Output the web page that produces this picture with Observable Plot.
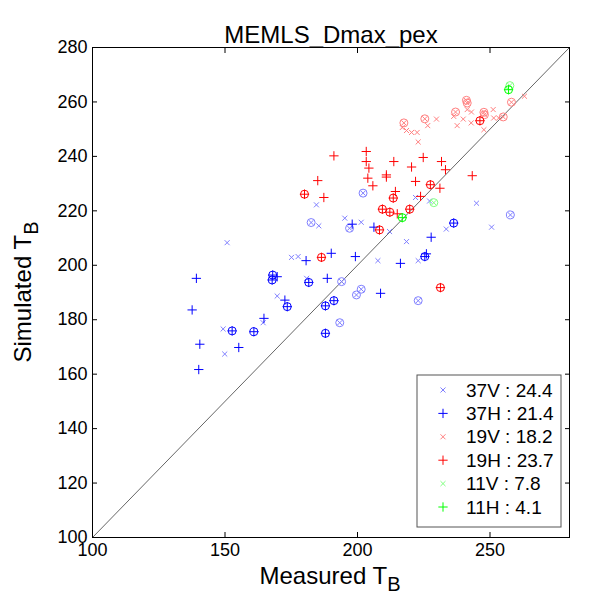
<!DOCTYPE html>
<html><head><meta charset="utf-8">
<script src="https://cdn.jsdelivr.net/npm/d3@7"></script>
<script src="https://cdn.jsdelivr.net/npm/@observablehq/plot@0.6"></script>
<style>body{margin:0;background:#fff;} #chart{width:589px;height:601px;}</style>
</head><body><div id="chart"></div>
<script>
// ---- data ----
const chartTitle = "MEMLS_Dmax_pex";
const series = ["37V", "37H", "19V", "19H", "11V", "11H"];
const rmse = [24.4, 21.4, 18.2, 23.7, 7.8, 4.1];
const colors = ["#7f7fff", "#0000ff", "#ff7f7f", "#ff0000", "#7fff7f", "#00ff00"];
const markers = ["times", "plus", "times", "plus", "times", "plus"];
const xTicks = [100, 150, 200, 250];
const yTicks = [100, 120, 140, 160, 180, 200, 220, 240, 260, 280];
const diagonal = [100, 280];

// [measured, simulated]
const pts37V = [[150.8,208.3],[169.7,188.7],[164.4,178.9],[149.3,176.6],[149.9,167.4],[175.1,202.9],[177.6,203.2],
  [180.8,195.2],[184.5,222.2],[185.4,214.5],[195.2,217.3],[201.4,215.8],[212.1,212.4],[218.5,208.7],[207.7,201.7],
  [222.9,201.7],[221.9,224.9],[227.2,223.6],[244.9,222.8],[233.5,213.3],[250.6,214.0],
  [202.1,226.5],[257.7,218.5],[182.5,215.7],[197.0,213.6],[194.0,194.0],[201.4,191.2],[199.6,189.1],[222.9,187.0],[193.3,178.9]];
const circ37V = [[202.1,226.5],[257.7,218.5],[182.5,215.7],[197.0,213.6],[194.0,194.0],[201.4,191.2],[199.6,189.1],[222.9,187.0],[193.3,178.9]];

const pts37H = [[139.2,195.2],[137.6,183.6],[140.5,171.0],[140.1,161.7],[155.2,169.8],[164.7,180.5],[169.7,195.8],[172.6,187.2],
  [180.6,201.7],[188.6,195.2],[190.1,204.4],[198.0,215.1],[199.2,203.2],[206.2,214.0],[208.7,189.7],[216.2,200.7],[227.8,210.3],[226.0,204.2],
  [168.0,196.4],[167.8,194.6],[152.7,175.9],[160.9,175.6],[173.5,184.8],[181.6,193.7],[187.9,185.1],[191.1,187.0],[187.9,175.0],[236.3,215.5],[225.4,203.2]];
const circ37H = [[168.0,196.4],[167.8,194.6],[152.7,175.9],[160.9,175.6],[173.5,184.8],[181.6,193.7],[187.9,185.1],[191.1,187.0],[187.9,175.0],[236.3,215.5],[225.4,203.2]];

const pts19V = [[263.0,262.1],[236.3,254.7],[241.4,257.2],[243.0,256.3],[251.2,257.2],[239.9,253.7],[242.9,252.3],[237.6,251.3],
  [247.7,249.8],[251.4,254.1],[253.3,254.1],[229.8,253.7],[226.5,251.3],[216.9,250.6],[218.5,249.5],[220.4,248.8],[222.5,248.8],[222.9,245.3],
  [241.1,260.6],[241.4,259.6],[237.0,256.3],[247.7,256.2],[247.9,255.3],[217.5,252.3],[225.4,253.8],[255.0,254.5],[258.1,259.9]];
const circ19V = [[241.1,260.6],[241.4,259.6],[237.0,256.3],[247.7,256.2],[247.9,255.3],[217.5,252.3],[225.4,253.8],[255.0,254.5],[258.1,259.9]];

const pts19H = [[191.1,240.2],[203.3,241.8],[203.3,238.1],[204.3,235.7],[203.9,232.0],[205.8,229.2],[213.7,238.1],[210.9,233.2],
  [210.9,232.4],[220.4,236.1],[224.8,239.6],[231.7,238.1],[233.2,235.1],[221.9,230.8],[243.3,232.9],[231.1,228.3],[185.0,231.1],
  [187.3,224.9],[214.3,227.1],[223.8,225.3],[215.0,218.9],
  [180.0,226.1],[227.5,229.6],[213.5,224.7],[209.4,220.6],[212.2,219.5],[219.7,220.6],[208.3,213.0],[186.4,202.9],[231.3,191.8],[246.2,253.1]];
const circ19H = [[180.0,226.1],[227.5,229.6],[213.5,224.7],[209.4,220.6],[212.2,219.5],[219.7,220.6],[208.3,213.0],[186.4,202.9],[231.3,191.8],[246.2,253.1]];

const pts11V = [[228.8,223.0],[257.5,266.0]];
const circ11V = [[228.8,223.0],[257.5,266.0]];
const pts11H = [[216.9,217.5],[257.0,264.5]];
const circ11H = [[216.9,217.5],[257.0,264.5]];

const allPts = [pts37V, pts37H, pts19V, pts19H, pts11V, pts11H];
const allCirc = [circ37V, circ37H, circ19V, circ19H, circ11V, circ11H];

// ---- chart ----
const font = "'Liberation Sans', Arial, Helvetica, sans-serif";
const markerR = {times: 2.4, plus: 3.1};
const marks = [
  Plot.line(diagonal, {x: d => d, y: d => d, stroke: "#666", strokeWidth: 1}),
];
series.forEach((s, i) => {
  marks.push(Plot.dot(allPts[i], {x: d => d[0], y: d => d[1], symbol: markers[i], r: markerR[markers[i]], stroke: colors[i], strokeOpacity: 1, strokeWidth: 1}));
  marks.push(Plot.dot(allCirc[i], {x: d => d[0], y: d => d[1], symbol: "circle", r: 4, stroke: colors[i], fill: "none", strokeWidth: 1}));
});
marks.push(
  Plot.frame({stroke: "#000", strokeWidth: 1}),
  Plot.axisX({anchor: "bottom", ticks: xTicks, tickSize: -5, tickPadding: 11, label: null}),
  Plot.axisX({anchor: "top", ticks: xTicks.slice(1), tickSize: -5, tickFormat: () => "", label: null}),
  Plot.axisY({anchor: "left", ticks: yTicks, tickSize: -5, tickPadding: 10, label: null}),
  Plot.axisY({anchor: "right", ticks: yTicks.slice(1, -1), tickSize: -5, tickFormat: () => "", label: null}),
  Plot.text([chartTitle], {frameAnchor: "top", dy: -22, fontSize: 24, fill: "#000"})
);

const plot = Plot.plot({
  width: 589, height: 601,
  marginLeft: 92, marginRight: 20, marginTop: 47, marginBottom: 64,
  x: {domain: [100, 280]},
  y: {domain: [100, 280]},
  style: {fontFamily: font, fontSize: "18px", color: "#000", background: "#fff"},
  marks
});
document.getElementById("chart").appendChild(plot);

// axis labels with subscripts
const svg = d3.select(plot);
function subLabel(sel, main, sub) {
  sel.append("tspan").text(main);
  sel.append("tspan").attr("dy", "0.35em").attr("font-size", "20px").text(sub);
}
const yl = svg.append("text").attr("transform", "translate(31,292) rotate(-90)")
  .attr("text-anchor", "middle").attr("font-size", "24px").attr("font-family", font).attr("fill", "#000");
subLabel(yl, "Simulated T", "B");
const xl = svg.append("text").attr("x", 330).attr("y", 584)
  .attr("text-anchor", "middle").attr("font-size", "24px").attr("font-family", font).attr("fill", "#000");
subLabel(xl, "Measured T", "B");

// legend
const lg = svg.append("g").attr("font-family", font).attr("font-size", "19px").attr("text-anchor", "start");
lg.append("rect").attr("x", 417).attr("y", 375).attr("width", 144).attr("height", 152)
  .attr("fill", "#fff").attr("stroke", "#555").attr("stroke-width", 1);
const symMap = {times: d3.symbolTimes, plus: d3.symbolPlus};
series.forEach((s, i) => {
  const cy = 390 + i * 23.4;
  const r = markerR[markers[i]];
  lg.append("path").attr("transform", `translate(443,${cy})`)
    .attr("d", d3.symbol(symMap[markers[i]], Math.PI * r * r)())
    .attr("fill", "none").attr("stroke", colors[i]).attr("stroke-width", 1);
  lg.append("text").attr("x", 466).attr("y", cy).attr("dy", "0.35em").attr("fill", "#000")
    .attr("text-anchor", "start").text(`${s} : ${rmse[i]}`);
});
</script>
</body></html>
